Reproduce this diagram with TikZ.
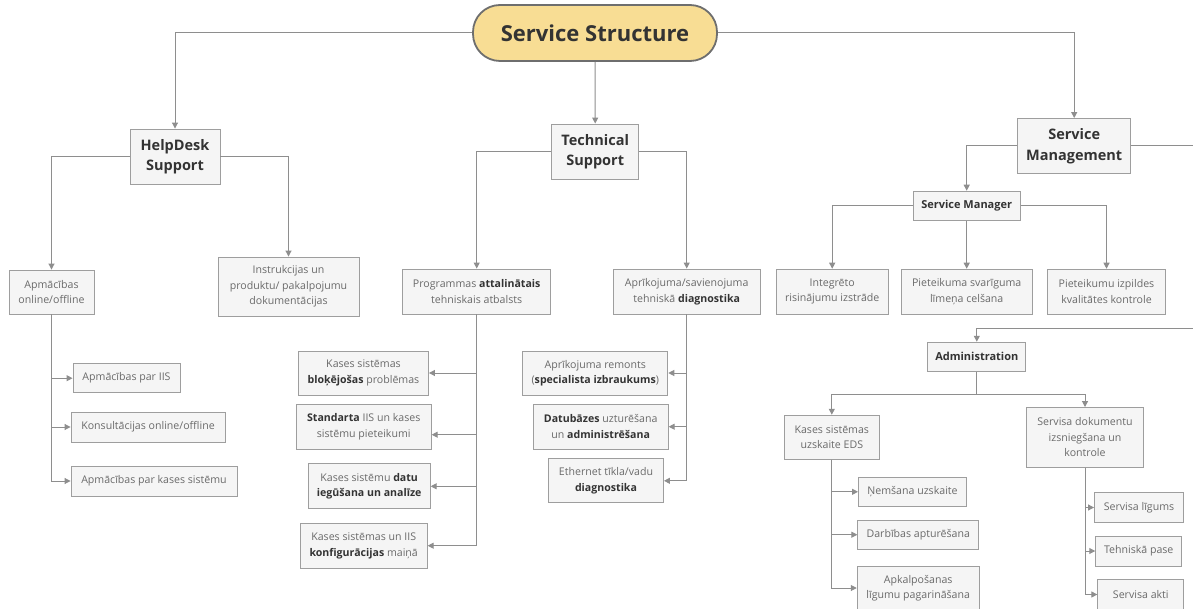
\documentclass[tikz,border=0pt]{standalone}
\usepackage{fontspec}
\setmainfont{Open Sans}
\usetikzlibrary{arrows.meta}
\definecolor{boxfill}{HTML}{F5F5F5}
\definecolor{boxline}{HTML}{9E9E9E}
\definecolor{lnc}{HTML}{8E8E8E}
\definecolor{txt}{HTML}{6A6A6A}
\definecolor{dark}{HTML}{333333}
\definecolor{rootfill}{HTML}{F8DD94}
\definecolor{rootline}{HTML}{6E6E6E}
\newcommand\hb[1]{{\bfseries\color{dark}#1}}
\begin{document}
\begin{tikzpicture}[x=1pt,y=-1pt,
  box/.style={draw=boxline, fill=boxfill, line width=0.9pt, align=center, inner sep=0pt, text=txt, font=\fontsize{10.6}{15.5}\selectfont},
  headbox/.style={box, text=dark, font=\fontsize{14.5}{20.5}\selectfont\bfseries},
  subhead/.style={box, text=dark, font=\fontsize{11}{14}\selectfont\bfseries},
  arr/.style={draw=lnc, line width=1pt, -{Triangle[length=6pt,width=6pt]}},
  plain/.style={draw=lnc, line width=1pt}]
\useasboundingbox (0,0) rectangle (1193,609);
\fill[white] (0,0) rectangle (1193,609);

% root
\node[draw=rootline, fill=rootfill, line width=1.8pt, rounded corners=27pt,
  minimum width=244pt, minimum height=56pt, inner sep=0pt, text=dark,
  font=\fontsize{22}{26}\selectfont\bfseries] (root) at (595,33) {Service Structure};

% level 1
\node[headbox, minimum width=90pt, minimum height=55pt] (hd) at (175,156.5) {HelpDesk\\Support};
\node[headbox, minimum width=87pt, minimum height=55pt] (ts) at (595.2,151.5) {Technical\\Support};
\node[headbox, minimum width=113pt, minimum height=55pt] (sm) at (1074.2,146) {Service\\Management};

% helpdesk children
\node[box, minimum width=85pt, minimum height=44pt] (apm) at (51.5,292) {Apmācības\\online/offline};
\node[box, minimum width=141pt, minimum height=59pt] (instr) at (288.5,286.5) {Instrukcijas un\\produktu/ pakalpojumu\\dokumentācijas};
\node[box, minimum width=107pt, minimum height=29pt] (b1) at (126.5,378.2) {Apmācības par IIS};
\node[box, minimum width=154pt, minimum height=30pt] (b2) at (148,427) {Konsultācijas online/offline};
\node[box, minimum width=166pt, minimum height=30pt] (b3) at (154,481) {Apmācības par kases sistēmu};

% technical children
\node[box, minimum width=148pt, minimum height=45pt] (prog) at (476.7,291.5) {Programmas \hb{attalinātais}\\tehniskais atbalsts};
\node[box, minimum width=147pt, minimum height=45pt] (apr) at (686.7,291.5) {Aprīkojuma/savienojuma\\tehniskā \hb{diagnostika}};
\node[box, minimum width=130pt, minimum height=44pt] (c1) at (363.5,373) {Kases sistēmas\\\hb{bloķējošas} problēmas};
\node[box, minimum width=135pt, minimum height=45pt] (c2) at (363.7,426.7) {\hb{Standarta} IIS un kases\\sistēmu pieteikumi};
\node[box, minimum width=122pt, minimum height=45pt] (c3) at (369.2,486.3) {Kases sistēmu \hb{datu}\\\hb{iegūšana un analīze}};
\node[box, minimum width=127pt, minimum height=45pt] (c4) at (363.7,545.7) {Kases sistēmas un IIS\\\hb{konfigurācijas} maiņā};
\node[box, minimum width=145pt, minimum height=44pt] (d1) at (595.3,373) {Aprīkojuma remonts\\(\hb{specialista izbraukums})};
\node[box, minimum width=135pt, minimum height=45pt] (d2) at (600.7,426.7) {\hb{Datubāzes} uzturēšana\\un \hb{administrēšana}};
\node[box, minimum width=115pt, minimum height=44pt] (d3) at (606,480.8) {Ethernet tīkla/vadu\\\hb{diagnostika}};

% service management children
\node[subhead, minimum width=107pt, minimum height=29pt] (smgr) at (966.7,205.7) {Service Manager};
\node[box, minimum width=112pt, minimum height=45pt] (e1) at (832.2,291.7) {Integrēto\\risinājumu izstrāde};
\node[box, minimum width=131pt, minimum height=45pt] (e2) at (966.7,291.7) {Pieteikuma svarīguma\\līmeņa celšana};
\node[box, minimum width=118pt, minimum height=45pt] (e3) at (1106.5,291.7) {Pieteikumu izpildes\\kvalitātes kontrole};

\node[subhead, minimum width=98pt, minimum height=29pt] (adm) at (976.8,356.7) {Administration};
\node[box, minimum width=95pt, minimum height=44pt] (eds) at (831.8,437.2) {Kases sistēmas\\uzskaite EDS};
\node[box, minimum width=117pt, minimum height=60pt] (sdk) at (1085,437.5) {Servisa dokumentu\\izsniegšana un\\kontrole};
\node[box, minimum width=108pt, minimum height=29pt] (f1) at (912.5,491.8) {Ņemšana uzskaite};
\node[box, minimum width=121pt, minimum height=29pt] (f2) at (918.3,534.7) {Darbības apturēšana};
\node[box, minimum width=122pt, minimum height=44pt] (f3) at (918.2,588) {Apkalpošanas\\līgumu pagarināšana};
\node[box, minimum width=89pt, minimum height=30pt] (g1) at (1139,507.5) {Servisa līgums};
\node[box, minimum width=86pt, minimum height=30pt] (g2) at (1138.7,551) {Tehniskā pase};
\node[box, minimum width=86pt, minimum height=30pt] (g3) at (1140.8,594.5) {Servisa akti};

\coordinate (smout) at (1193,146);
\coordinate (admin) at (1193,328.3);
\coordinate (admj) at (976.8,394);

% connectors
\draw[arr] (root.west) -| (hd.north);
\draw[arr] (root.east) -| (sm.north);
\draw[arr] (root.south) -- (ts.north);

\draw[arr] (hd.west) -| (apm.north);
\draw[arr] (hd.east) -| (instr.north);
\draw[arr] (apm.south) |- (b1.west);
\draw[arr] (apm.south) |- (b2.west);
\draw[arr] (apm.south) |- (b3.west);

\draw[arr] (ts.west) -| (prog.north);
\draw[arr] (ts.east) -| (apr.north);
\draw[arr] (prog.south) |- (c1.east);
\draw[arr] (prog.south) |- ([yshift=-8pt]c2.east);
\draw[arr] (prog.south) |- (c3.east);
\draw[arr] (prog.south) |- (c4.east);
\draw[arr] (apr.south) |- (d1.east);
\draw[arr] (apr.south) |- (d2.east);
\draw[arr] (apr.south) |- (d3.east);

\draw[arr] (sm.west) -| (smgr.north);
\draw[plain] (sm.east) -- (smout);
\draw[arr] (smgr.west) -| (e1.north);
\draw[arr] (smgr.south) -- (e2.north);
\draw[arr] (smgr.east) -| (e3.north);

\draw[arr] (admin) -| (adm.north);
\draw[arr] (adm.south) -- (admj) -| (eds.north);
\draw[arr] (admj) -| (sdk.north);
\draw[arr] (eds.south) |- (f1.west);
\draw[arr] (eds.south) |- (f2.west);
\draw[arr] (eds.south) |- (f3.west);
\draw[arr] (sdk.south) |- (g1.west);
\draw[arr] (sdk.south) |- (g2.west);
\draw[arr] (sdk.south) |- (g3.west);
\end{tikzpicture}
\end{document}
